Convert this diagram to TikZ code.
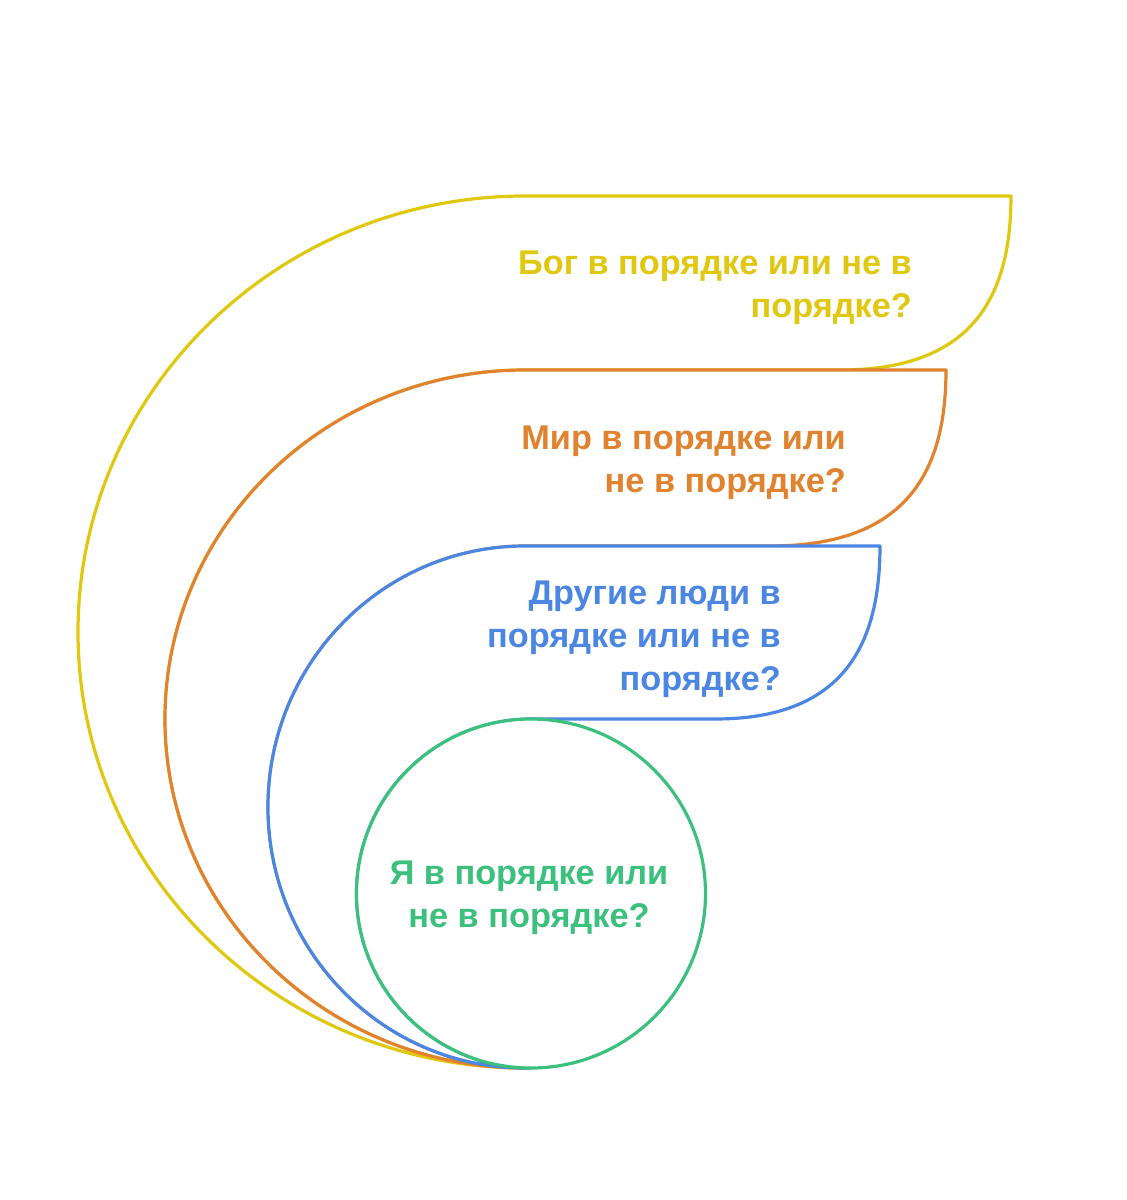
\documentclass[tikz,border=0pt]{standalone}
\usepackage{fontspec}
\setmainfont{Liberation Sans}
\definecolor{godyellow}{HTML}{E0C810}
\definecolor{worldorange}{HTML}{E0822E}
\definecolor{otherblue}{HTML}{4A86E2}
\definecolor{selfgreen}{HTML}{3CC07E}
\begin{document}
\begin{tikzpicture}[x=1pt,y=-1pt,
  layer/.style={line width=3.2pt,fill=white,line join=round},
  question/.style={font=\fontsize{34.3}{43}\selectfont\bfseries,inner sep=0pt}]
\useasboundingbox (0,0) rectangle (1127,1200);

% Yellow layer - God
\draw[layer,draw=godyellow] (525,1068) arc[start angle=90,end angle=270,x radius=447,y radius=436]
  -- (1011,196) .. controls (1011,300) and (970,370) .. (840,370) -- (525,370)
  arc[start angle=270,end angle=90,x radius=360,y radius=349] -- cycle;
\node[question,godyellow,align=right,anchor=base east] (god) at (912,317) {Бог в порядке или не в\\порядке?};

% Orange layer - world
\draw[layer,draw=worldorange] (525,1068) arc[start angle=90,end angle=270,x radius=360,y radius=349]
  -- (946,370) .. controls (946,475) and (904,546) .. (770,546) -- (525,546)
  arc[start angle=270,end angle=90,x radius=257,y radius=261] -- cycle;
\node[question,worldorange,align=right,anchor=base east] (world) at (846,492) {Мир в порядке или\\не в порядке?};

% Blue layer - other people
\draw[layer,draw=otherblue] (525,1068) arc[start angle=90,end angle=270,x radius=257,y radius=261]
  -- (880,546) .. controls (880,649) and (840,719) .. (715,719) -- (531,719)
  arc[start angle=270,end angle=90,radius=174.5] -- cycle;
\node[question,otherblue,align=right,anchor=base east] (others) at (781,690) {Другие люди в\\порядке или не в\\порядке?};

% Green circle - self
\draw[layer,draw=selfgreen] (531,893.5) circle[radius=174.5];
\node[question,selfgreen,align=center,anchor=base] (self) at (529,927) {Я в порядке или\\не в порядке?};
\end{tikzpicture}
\end{document}
